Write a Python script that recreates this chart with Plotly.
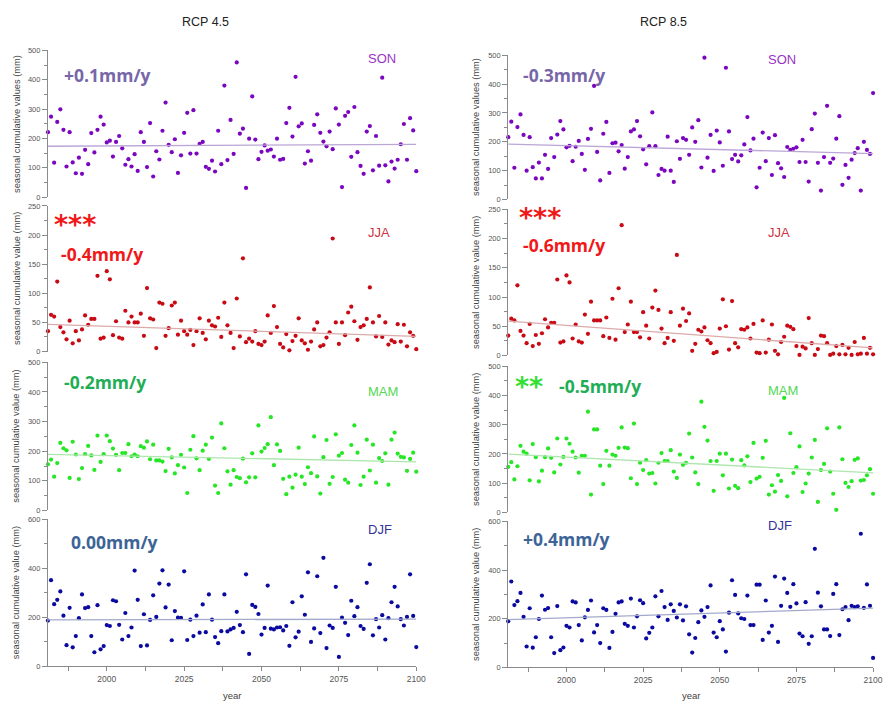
import numpy as np
import plotly.graph_objects as go

W, H = 890, 707

years = list(range(1981, 2101))

# Seasonal cumulative precipitation (mm), RCP 4.5
son_rcp45 = [221, 274, 117, 256, 299, 229, 104, 221, 118, 81,
             134, 79, 161, 112, 218, 152, 229, 274, 247, 186,
             192, 138, 188, 208, 166, 110, 129, 104, 146, 89,
             221, 188, 102, 252, 70, 156, 128, 226, 322, 178,
             153, 197, 82, 142, 219, 287, 148, 296, 148, 181,
             188, 103, 96, 124, 87, 226, 112, 380, 126, 263,
             147, 459, 216, 233, 31, 199, 343, 196, 129, 154,
             176, 158, 162, 138, 199, 127, 130, 252, 304, 206,
             410, 241, 251, 114, 156, 124, 246, 282, 219, 189,
             173, 223, 163, 302, 247, 34, 277, 290, 137, 307,
             153, 106, 79, 223, 242, 91, 208, 107, 407, 108,
             53, 121, 97, 127, 180, 249, 127, 269, 227, 88]
jja_rcp45 = [35, 63, 60, 120, 42, 33, 21, 53, 14, 35,
             19, 38, 62, 46, 56, 56, 130, 22, 24, 138,
             124, 28, 52, 24, 22, 70, 50, 60, 50, 50,
             65, 27, 109, 57, 55, 6, 84, 82, 27, 40,
             79, 84, 29, 53, 35, 29, 37, 11, 35, 57,
             32, 21, 53, 45, 43, 58, 25, 84, 45, 32,
             6, 91, 26, 160, 16, 22, 17, 35, 13, 11,
             17, 62, 32, 78, 42, 13, 7, 30, 2, 18,
             27, 57, 19, 14, 3, 17, 38, 50, 9, 11,
             24, 33, 194, 50, 13, 50, 28, 67, 77, 52,
             20, 42, 45, 56, 110, 50, 26, 61, 25, 50,
             12, 19, 16, 47, 17, 46, 9, 33, 27, 4]
mam_rcp45 = [156, 172, 114, 160, 228, 210, 203, 110, 232, 189,
             106, 143, 190, 218, 186, 137, 253, 164, 190, 253,
             234, 209, 188, 136, 194, 194, 224, 183, 189, 183,
             217, 212, 233, 173, 222, 169, 169, 165, 133, 208,
             179, 125, 153, 188, 145, 59, 205, 251, 176, 136,
             202, 222, 174, 246, 84, 59, 294, 210, 132, 87,
             136, 113, 109, 175, 95, 112, 193, 112, 287, 199,
             211, 224, 315, 153, 223, 201, 107, 55, 114, 77,
             121, 212, 114, 89, 146, 126, 250, 115, 57, 180,
             238, 90, 113, 257, 185, 194, 104, 94, 221, 287,
             195, 86, 114, 239, 135, 222, 94, 177, 167, 193,
             87, 239, 263, 192, 181, 179, 134, 174, 195, 131]
djf_rcp45 = [187, 352, 254, 272, 306, 207, 87, 239, 78, 124,
             197, 294, 238, 242, 124, 58, 250, 70, 83, 169,
             165, 270, 266, 170, 110, 218, 124, 159, 391, 272,
             83, 213, 86, 190, 290, 202, 338, 392, 241, 334,
             107, 226, 199, 198, 388, 108, 191, 124, 207, 138,
             253, 140, 294, 191, 120, 95, 144, 294, 143, 151,
             157, 223, 169, 140, 376, 51, 251, 243, 214, 130,
             157, 330, 154, 151, 159, 160, 147, 165, 84, 262,
             119, 142, 286, 211, 384, 100, 155, 368, 136, 443,
             75, 167, 157, 325, 39, 199, 178, 128, 268, 205,
             242, 165, 153, 341, 417, 127, 193, 159, 209, 110,
             197, 262, 325, 245, 193, 167, 202, 376, 206, 79]

# Seasonal cumulative precipitation (mm), RCP 8.5
son_rcp85 = [216, 270, 110, 251, 295, 224, 100, 216, 112, 73,
             128, 73, 155, 106, 213, 147, 225, 272, 243, 181,
             186, 133, 183, 203, 158, 103, 210, 245, 394, 165,
             66, 228, 269, 92, 195, 197, 167, 189, 107, 147,
             236, 243, 272, 219, 174, 122, 185, 302, 185, 85,
             106, 100, 218, 100, 61, 202, 141, 213, 207, 155,
             250, 200, 275, 111, 492, 145, 224, 99, 239, 198,
             117, 457, 236, 140, 155, 132, 153, 191, 286, 170,
             211, 42, 110, 232, 133, 213, 85, 223, 126, 108,
             78, 182, 172, 176, 181, 130, 207, 130, 62, 244,
             298, 127, 31, 147, 325, 127, 142, 211, 289, 51,
             120, 75, 138, 161, 178, 31, 200, 172, 158, 369]
jja_rcp85 = [34, 63, 60, 120, 42, 34, 21, 54, 16, 35,
             20, 38, 62, 48, 56, 56, 130, 22, 24, 137,
             125, 29, 53, 24, 22, 70, 37, 92, 60, 60,
             60, 33, 65, 30, 97, 27, 115, 223, 40, 53,
             92, 40, 40, 31, 74, 51, 29, 82, 111, 78,
             46, 21, 30, 74, 25, 172, 51, 80, 59, 72,
             8, 20, 44, 41, 48, 26, 21, 4, 6, 46,
             96, 50, 10, 93, 21, 14, 45, 44, 48, 29,
             54, 5, 4, 60, 5, 27, 53, 8, 2, 23,
             32, 51, 49, 45, 16, 1, 15, 12, 64, 21,
             1, 11, 34, 33, 21, 1, 3, 16, 2, 18,
             2, 13, 1, 23, 2, 3, 30, 3, 13, 2]
mam_rcp85 = [156, 172, 113, 158, 228, 208, 201, 110, 234, 189,
             106, 143, 189, 219, 187, 137, 253, 164, 190, 253,
             235, 208, 188, 136, 194, 194, 345, 61, 284, 284,
             160, 97, 211, 160, 198, 194, 221, 291, 222, 220,
             117, 304, 97, 170, 145, 179, 133, 135, 99, 170,
             203, 176, 176, 213, 140, 118, 198, 163, 170, 270,
             188, 137, 97, 379, 293, 246, 176, 74, 176, 201,
             127, 201, 82, 181, 91, 83, 179, 161, 192, 104,
             238, 116, 122, 187, 245, 61, 93, 71, 128, 108,
             392, 55, 271, 135, 155, 226, 70, 99, 133, 188,
             248, 36, 145, 166, 288, 140, 64, 9, 291, 182,
             101, 87, 107, 180, 185, 109, 111, 127, 148, 64]
djf_rcp85 = [190, 353, 256, 272, 306, 208, 86, 243, 81, 124,
             199, 295, 237, 244, 124, 59, 252, 71, 82, 171,
             164, 271, 267, 174, 111, 206, 236, 275, 144, 174,
             100, 243, 236, 80, 146, 220, 267, 271, 179, 171,
             283, 164, 210, 276, 264, 119, 142, 164, 292, 210,
             314, 248, 195, 259, 232, 205, 259, 193, 251, 136,
             61, 121, 186, 234, 208, 248, 337, 143, 124, 190,
             156, 65, 225, 358, 298, 222, 202, 199, 295, 174,
             174, 340, 340, 113, 275, 143, 171, 373, 105, 253,
             365, 306, 249, 342, 263, 139, 128, 268, 97, 128,
             487, 307, 251, 156, 156, 129, 302, 342, 133, 239,
             248, 194, 253, 248, 251, 549, 245, 341, 253, 39]

scenarios = ["RCP 4.5", "RCP 8.5"]
seasons = ["SON", "JJA", "MAM", "DJF"]
trend_labels = {
    ("RCP 4.5", "SON"): "+0.1mm/y", ("RCP 8.5", "SON"): "-0.3mm/y",
    ("RCP 4.5", "JJA"): "-0.4mm/y", ("RCP 8.5", "JJA"): "-0.6mm/y",
    ("RCP 4.5", "MAM"): "-0.2mm/y", ("RCP 8.5", "MAM"): "-0.5mm/y",
    ("RCP 4.5", "DJF"): "0.00mm/y", ("RCP 8.5", "DJF"): "+0.4mm/y",
}
significance = {("RCP 4.5", "JJA"): "***", ("RCP 8.5", "JJA"): "***",
                ("RCP 8.5", "MAM"): "**"}
y_titles = ["seasonal cumulative values (mm)", "seasonal cumulative value (mm)",
            "seasonal cumulative value (mm)", "seasonal cumulative value (mm)"]
x_ticks = [2000, 2025, 2050, 2075, 2100]

series = {
    ("RCP 4.5", "SON"): son_rcp45, ("RCP 4.5", "JJA"): jja_rcp45,
    ("RCP 4.5", "MAM"): mam_rcp45, ("RCP 4.5", "DJF"): djf_rcp45,
    ("RCP 8.5", "SON"): son_rcp85, ("RCP 8.5", "JJA"): jja_rcp85,
    ("RCP 8.5", "MAM"): mam_rcp85, ("RCP 8.5", "DJF"): djf_rcp85,
}

# styling per season
style = {
    "SON": dict(marker="#7a06bf", line="#bba6d6", trend="#7766a8", name="#9a33c4",
                yr=[0, 500], dtick=100, minor=50),
    "JJA": dict(marker="#c80a14", line="#dcaaaa", trend="#f01818", name="#cc3344",
                yr=[0, 250], dtick=50, minor=25),
    "MAM": dict(marker="#26e626", line="#aee6ae", trend="#1fae55", name="#55d855",
                yr=[0, 500], dtick=100, minor=50),
    "DJF": dict(marker="#0a0aa0", line="#a2aacb", trend="#3d6496", name="#333399",
                yr=[0, 600], dtick=200, minor=100),
}
sig_color = {"JJA": "#f01818", "MAM": "#33e033"}

# pixel layout of the panels
col_x = [(48.5, 421.0), (514.0, 883.0)]
row_y = [[(47, 195.5), (204.5, 352), (363, 513), (522, 671)],
         [(52, 198), (208, 356), (367, 515), (524, 672)]]
# vertical offset of the season name from the panel top
name_dy = [{0: 8, 1: 27, 2: 29, 3: 10}, {0: 4, 1: 23, 2: 24, 3: 4}]


def fx(px):
    return px / W


def fy(py):
    return 1 - py / H


def theil_sen(x, y):
    """Robust linear trend: median of pairwise slopes, median intercept."""
    i, j = np.triu_indices(len(x), k=1)
    slope = np.median((y[j] - y[i]) / (x[j] - x[i]))
    icpt = np.median(y - slope * x)
    return slope, icpt


fig = go.Figure()
annotations = []
tick_font = dict(family="Liberation Sans, Arial", size=7.5, color="#555555")

for c, scen in enumerate(scenarios):
    for r, season in enumerate(seasons):
        k = c * 4 + r + 1
        xa = "x" if k == 1 else f"x{k}"
        ya = "y" if k == 1 else f"y{k}"
        st = style[season]
        vals = np.array(series[(scen, season)], dtype=float)
        yrs = np.array(years, dtype=float)

        fig.add_trace(go.Scatter(
            x=years, y=vals, mode="markers", xaxis=xa, yaxis=ya,
            marker=dict(size=4.2, color=st["marker"]), cliponaxis=False,
            showlegend=False, hoverinfo="x+y"))

        slope, icpt = theil_sen(yrs, vals)
        fit_x = [years[0], years[-1]]
        fig.add_trace(go.Scatter(
            x=fit_x, y=[slope * fit_x[0] + icpt, slope * fit_x[1] + icpt],
            mode="lines", xaxis=xa, yaxis=ya,
            line=dict(color=st["line"], width=1.3), showlegend=False,
            hoverinfo="skip"))

        x0, x1 = col_x[c]
        y_top, y_bot = row_y[c][r]
        bottom = r == 3
        fig.layout[("xaxis" if k == 1 else f"xaxis{k}")] = dict(
            domain=[fx(x0), fx(x1)], range=[1981, 2100], anchor=ya,
            showgrid=False, zeroline=False, showline=bottom,
            linecolor="#8a8a8a", linewidth=1,
            ticks="outside" if bottom else "", ticklen=4, tickcolor="#8a8a8a",
            tickvals=x_ticks if bottom else [], showticklabels=bottom,
            tickfont=dict(family="Liberation Sans, Arial", size=8.5, color="#555555"),
            minor=dict(ticks="outside", ticklen=4, tickcolor="#8a8a8a",
                       tick0=1987.5, dtick=12.5) if bottom else dict(ticks=""),
        )
        fig.layout[("yaxis" if k == 1 else f"yaxis{k}")] = dict(
            domain=[fy(y_bot), fy(y_top)], range=st["yr"], anchor=xa,
            showgrid=False, zeroline=False, showline=True,
            linecolor="#8a8a8a", linewidth=1,
            ticks="outside", ticklen=5, tickcolor="#8a8a8a",
            tick0=0, dtick=st["dtick"], tickfont=tick_font,
            minor=dict(ticks="outside", ticklen=3, tickcolor="#8a8a8a",
                       tick0=0, dtick=st["minor"]),
        )

        # axis title
        annotations.append(dict(
            x=fx(x0 - 32), y=fy((y_top + y_bot) / 2), xref="paper", yref="paper",
            text=y_titles[r], textangle=-90, showarrow=False,
            xanchor="center", yanchor="middle",
            font=dict(family="Liberation Sans, Arial", size=9.3, color="#444444")))

        # season name
        annotations.append(dict(
            x=fx(x0 + (322 if c == 0 else 261)), y=fy(y_top + name_dy[c][r]),
            xref="paper", yref="paper", text=season, showarrow=False,
            xanchor="left", yanchor="middle",
            font=dict(family="Liberation Sans, Arial", size=13, color=st["name"])))

        # trend value text and significance stars
        label = trend_labels[(scen, season)]
        sig = significance.get((scen, season))
        if season == "SON":
            lx, ly = x0 + (14.5 if c == 0 else 13), y_top + (25 if c == 0 else 20)
        elif season == "JJA":
            lx, ly = x0 + (11.5 if c == 0 else 13), y_top + (49 if c == 0 else 36)
        elif season == "MAM":
            lx, ly = x0 + (14.5 if c == 0 else 49), y_top + 20
        else:
            lx, ly = x0 + (21.5 if c == 0 else 13), y_top + 23 if c == 0 else y_top + 18
        annotations.append(dict(
            x=fx(lx), y=fy(ly), xref="paper", yref="paper", text=f"<b>{label}</b>",
            showarrow=False, xanchor="left", yanchor="middle",
            font=dict(family="Open Sans, Liberation Sans", size=17.5, color=st["trend"])))
        if sig:
            if season == "JJA":
                sx, sy = x0 + (4.5 if c == 0 else 9), y_top + (19 if c == 0 else 8)
            else:
                sx, sy = x0 + 5, y_top + 20
            annotations.append(dict(
                x=fx(sx), y=fy(sy), xref="paper", yref="paper", text=f"<b>{sig}</b>",
                showarrow=False, xanchor="left", yanchor="middle",
                font=dict(family="DejaVu Sans", size=27, color=sig_color[season])))

    # column title and x axis title
    annotations.append(dict(
        x=fx((col_x[c][0] + col_x[c][1]) / 2 - 27), y=fy(18), xref="paper", yref="paper",
        text=scen, showarrow=False, xanchor="center", yanchor="middle",
        font=dict(family="Liberation Sans, Arial", size=12.5, color="#222222")))
    annotations.append(dict(
        x=fx((col_x[c][0] + col_x[c][1]) / 2), y=fy(700), xref="paper", yref="paper",
        text="year", showarrow=False, xanchor="center", yanchor="middle",
        font=dict(family="Liberation Sans, Arial", size=9.5, color="#444444")))

fig.update_layout(
    width=W, height=H, margin=dict(l=0, r=0, t=0, b=0),
    paper_bgcolor="white", plot_bgcolor="white",
    annotations=annotations, showlegend=False,
)

fig.write_html("out.html")
